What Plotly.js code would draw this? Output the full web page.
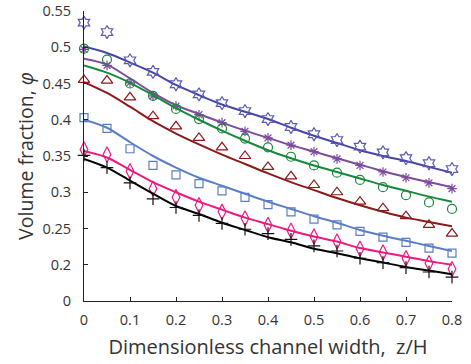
<!DOCTYPE html>
<html><head><meta charset="utf-8">
<script src="https://cdn.plot.ly/plotly-3.0.1.min.js"></script>
<style>html,body{margin:0;padding:0;background:#fff}#chart{width:471px;height:364px}</style>
</head><body><div id="chart"></div>
<script>
const xPts = [0,0.05,0.1,0.15,0.2,0.25,0.3,0.35,0.4,0.45,0.5,0.55,0.6,0.65,0.7,0.75,0.8];

const starPts   = [0.534,0.521,0.482,0.466,0.449,0.435,0.423,0.412,0.401,0.390,0.380,0.372,0.363,0.355,0.347,0.340,0.332];
const starLine  = [0.501,0.492,0.479,0.465,0.448,0.434,0.421,0.411,0.401,0.389,0.378,0.368,0.358,0.350,0.343,0.335,0.327];
const astPts    = [0.497,0.475,0.451,0.433,0.419,0.407,0.396,0.384,0.375,0.365,0.356,0.346,0.337,0.328,0.320,0.313,0.305];
const astLine   = [0.484,0.476,0.457,0.437,0.420,0.408,0.396,0.385,0.375,0.365,0.356,0.347,0.338,0.329,0.321,0.314,0.307];
const circPts   = [0.498,0.483,0.450,0.433,0.415,0.401,0.388,0.374,0.362,0.349,0.337,0.327,0.317,0.307,0.296,0.286,0.277];
const circLine  = [0.475,0.465,0.451,0.434,0.416,0.400,0.385,0.371,0.358,0.347,0.337,0.328,0.319,0.310,0.302,0.294,0.287];
const triPts    = [0.455,0.454,0.431,0.405,0.391,0.375,0.362,0.350,0.335,0.322,0.310,0.300,0.287,0.278,0.267,0.255,0.243];
const triLine   = [0.452,0.437,0.418,0.398,0.381,0.366,0.352,0.339,0.326,0.314,0.303,0.292,0.282,0.273,0.265,0.259,0.253];
const sqPts     = [0.403,0.388,0.360,0.337,0.324,0.312,0.302,0.293,0.283,0.273,0.263,0.255,0.246,0.238,0.231,0.223,0.216];
const sqLine    = [0.400,0.389,0.369,0.350,0.334,0.320,0.309,0.298,0.287,0.277,0.267,0.258,0.248,0.240,0.233,0.226,0.219];
const diaPts    = [0.359,0.352,0.329,0.305,0.293,0.282,0.273,0.264,0.255,0.247,0.239,0.232,0.222,0.217,0.209,0.202,0.194];
const diaLine   = [0.357,0.348,0.331,0.314,0.300,0.287,0.276,0.265,0.256,0.247,0.239,0.232,0.223,0.217,0.211,0.205,0.200];
const plusPts   = [0.351,0.334,0.313,0.291,0.279,0.268,0.257,0.249,0.243,0.235,0.226,0.219,0.209,0.203,0.196,0.190,0.183];
const plusLine  = [0.346,0.334,0.316,0.298,0.281,0.270,0.258,0.248,0.238,0.231,0.222,0.216,0.209,0.203,0.197,0.192,0.187];

const yTickVals = [0.15,0.2,0.25,0.3,0.35,0.4,0.45,0.5,0.55];
const yTickText = ['0','0.2','0.25','0.3','0.35','0.4','0.45','0.5','0.55'];
const xTickVals = [0,0.1,0.2,0.3,0.4,0.5,0.6,0.7,0.8];
const xTickText = ['0','0.1','0.2','0.3','0.4','0.5','0.6','0.7','0.8'];

const series = [
  {pts: starPts, line: starLine, color: '#4646a6', mcolor: '#5a5ab4', symbol: 'hexagram-open', size: 10},
  {pts: astPts, line: astLine, color: '#7e4b9e', mcolor: '#7e4b9e', symbol: 'asterisk-open', size: 8},
  {pts: circPts, line: circLine, color: '#17893a', mcolor: '#17893a', symbol: 'circle-open', size: 9},
  {pts: triPts, line: triLine, color: '#8c1a1a', mcolor: '#8c1a1a', symbol: 'triangle-up-open', size: 10},
  {pts: sqPts, line: sqLine, color: '#5a7ec6', mcolor: '#5a7ec6', symbol: 'square-open', size: 8},
  {pts: diaPts, line: diaLine, color: '#ec1a7e', mcolor: '#ec1a7e', symbol: 'diamond-tall-open', size: 11},
  {pts: plusPts, line: plusLine, color: '#000000', mcolor: '#111111', symbol: 'cross-thin-open', size: 9}
];

const traces = [];
series.forEach(s => {
  traces.push({x: xPts, y: s.line, type: 'scatter', mode: 'lines',
    line: {color: s.color, width: 2, shape: 'spline', smoothing: 0.8}, hoverinfo: 'skip', cliponaxis: false});
  traces.push({x: xPts, y: s.pts, type: 'scatter', mode: 'markers',
    marker: {symbol: s.symbol, size: s.size, color: s.mcolor, line: {color: s.mcolor, width: 1.2}}, cliponaxis: false});
});

const layout = {
  width: 471, height: 364,
  margin: {l: 84, r: 19, t: 11, b: 63},
  paper_bgcolor: '#fff', plot_bgcolor: '#fff',
  showlegend: false,
  font: {family: '"Open Sans", "Noto Sans", sans-serif', color: '#333', size: 14.5},
  xaxis: {
    range: [0, 0.8], tickvals: xTickVals, ticktext: xTickText,
    showgrid: false, zeroline: false, showline: true, linecolor: '#222', linewidth: 1,
    ticks: 'inside', ticklen: 4, tickcolor: '#222', ticklabelstandoff: 6,
    tickfont: {size: 14.5, color: '#333'},
    title: {text: 'Dimensionless channel width,  z/H', font: {size: 20, color: '#333'}, standoff: 11}
  },
  yaxis: {
    range: [0.15, 0.55], tickvals: yTickVals, ticktext: yTickText,
    showgrid: false, zeroline: false, showline: true, linecolor: '#222', linewidth: 1,
    ticks: 'inside', ticklen: 4, tickcolor: '#222', ticklabelstandoff: 9,
    tickfont: {size: 14.5, color: '#333'},
    title: {text: 'Volume fraction, <i>φ</i>', font: {size: 19.5, color: '#333'}, standoff: 3}
  }
};

Plotly.newPlot('chart', traces, layout, {staticPlot: true, displayModeBar: false});
</script>
</body></html>
